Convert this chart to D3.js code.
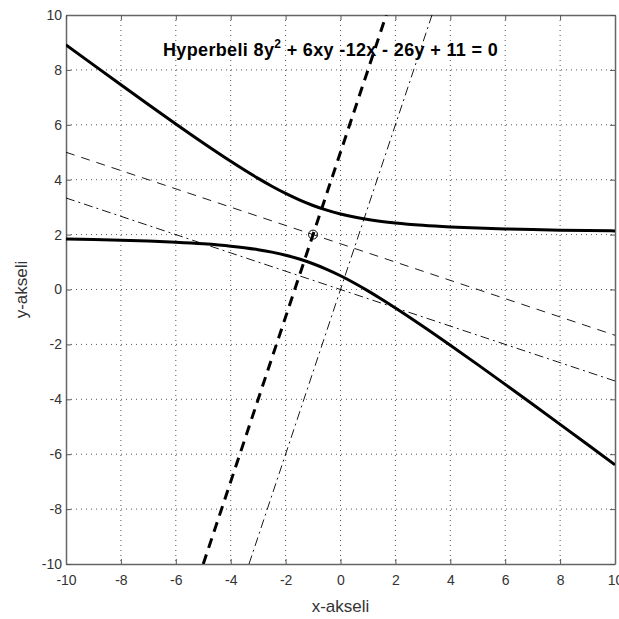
<!DOCTYPE html>
<html><head><meta charset="utf-8">
<script src="https://cdn.jsdelivr.net/npm/d3@7"></script>
<style>body{margin:0;background:#fff;} svg{display:block;font-family:"Liberation Sans",Arial,sans-serif;}</style>
</head><body>
<svg id="c" width="619" height="619"></svg>
<script>
const xTicks = [-10,-8,-6,-4,-2,0,2,4,6,8,10];
const yTicks = [-10,-8,-6,-4,-2,0,2,4,6,8,10];
const curveX = [-10,-9,-8,-7,-6,-5,-4,-3,-2.5,-2,-1.5,-1,-0.5,0,0.5,1,1.5,2,3,4,5,6,7,8,9,10];
const upperY = [8.913,8.182,7.456,6.737,6.029,5.337,4.671,4.049,3.763,3.5,3.265,3.061,2.890,2.75,2.638,2.549,2.478,2.421,2.337,2.279,2.237,2.206,2.182,2.163,2.147,2.134];
const lowerY = [1.837,1.818,1.794,1.763,1.721,1.663,1.579,1.451,1.362,1.25,1.110,0.939,0.735,0.5,0.237,-0.049,-0.353,-0.671,-1.337,-2.029,-2.737,-3.456,-4.182,-4.913,-5.647,-6.384];
const mainAxis1 = [[-5,-10],[1.667,10]];
const mainAxis2 = [[-10,5],[10,-1.667]];
const origAxis1 = [[-3.333,-10],[3.333,10]];
const origAxis2 = [[-10,3.333],[10,-3.333]];
const center = [-1,2];

const svg = d3.select("#c");
const L=66,T=15,R=615,B=564;
const x = d3.scaleLinear().domain([-10,10]).range([L,R]);
const y = d3.scaleLinear().domain([-10,10]).range([B,T]);
const fmt = d => String(d);

// grid
const g = svg.append("g");
g.selectAll(".gx").data(xTicks.slice(1,-1)).enter().append("line")
 .attr("x1",d=>x(d)).attr("x2",d=>x(d)).attr("y1",T).attr("y2",B)
 .attr("stroke","#555").attr("stroke-width",1).attr("stroke-dasharray","1,4");
g.selectAll(".gy").data(yTicks.slice(1,-1)).enter().append("line")
 .attr("y1",d=>y(d)).attr("y2",d=>y(d)).attr("x1",L).attr("x2",R)
 .attr("stroke","#555").attr("stroke-width",1).attr("stroke-dasharray","1,4");

// axes
const xa = svg.append("g").attr("transform",`translate(0,${B})`)
 .call(d3.axisBottom(x).tickValues(xTicks).tickFormat(fmt).tickSizeInner(-5).tickSizeOuter(0).tickPadding(11));
const ya = svg.append("g").attr("transform",`translate(${L},0)`)
 .call(d3.axisLeft(y).tickValues(yTicks).tickFormat(fmt).tickSizeInner(-5).tickSizeOuter(0).tickPadding(4));
const xb = svg.append("g").attr("transform",`translate(0,${T})`)
 .call(d3.axisTop(x).tickValues(xTicks).tickSizeInner(-5).tickSizeOuter(0).tickFormat(""));
const yb = svg.append("g").attr("transform",`translate(${R},0)`)
 .call(d3.axisRight(y).tickValues(yTicks).tickSizeInner(-5).tickSizeOuter(0).tickFormat(""));
[xa,ya,xb,yb].forEach(a=>{
  a.selectAll("path").attr("stroke","#666").attr("stroke-width",1.5);
  a.selectAll("line").attr("stroke","#555");
  a.selectAll("text").attr("font-size",14).attr("fill","#333").attr("font-family","Liberation Sans, Arial, sans-serif");
});

const clip = svg.append("clipPath").attr("id","clp").append("rect")
 .attr("x",L).attr("y",T).attr("width",R-L).attr("height",B-T);
const p = svg.append("g").attr("clip-path","url(#clp)");
const line = d3.line().x(d=>x(d[0])).y(d=>y(d[1]));
const smooth = d3.line().curve(d3.curveMonotoneX).x(d=>x(d[0])).y(d=>y(d[1]));

p.append("path").datum(curveX.map((v,i)=>[v,upperY[i]])).attr("d",smooth)
 .attr("fill","none").attr("stroke","#000").attr("stroke-width",3);
p.append("path").datum(curveX.map((v,i)=>[v,lowerY[i]])).attr("d",smooth)
 .attr("fill","none").attr("stroke","#000").attr("stroke-width",3);

p.append("path").datum(mainAxis1).attr("d",line).attr("fill","none").attr("stroke","#000").attr("stroke-width",3).attr("stroke-dasharray","10,7");
p.append("path").datum(mainAxis2).attr("d",line).attr("fill","none").attr("stroke","#000").attr("stroke-width",0.9).attr("stroke-dasharray","9,7");
p.append("path").datum(origAxis1).attr("d",line).attr("fill","none").attr("stroke","#000").attr("stroke-width",0.9).attr("stroke-dasharray","9,4,2,4");
p.append("path").datum(origAxis2).attr("d",line).attr("fill","none").attr("stroke","#000").attr("stroke-width",0.9).attr("stroke-dasharray","9,4,2,4");

p.append("circle").attr("cx",x(center[0])).attr("cy",y(center[1])).attr("r",4.5)
 .attr("fill","none").attr("stroke","#000").attr("stroke-width",1);

// title
const t = svg.append("text").attr("x",163).attr("y",56).attr("font-size",18).attr("font-weight","bold").attr("letter-spacing",0.35).attr("fill","#000");
t.append("tspan").text("Hyperbeli 8y");
t.append("tspan").attr("font-size",12).attr("dy",-8).text("2");
t.append("tspan").attr("dy",8).text(" + 6xy -12x - 26y + 11 = 0");

svg.append("text").attr("x",(L+R)/2).attr("y",612).attr("text-anchor","middle").attr("font-size",17).attr("fill","#333").text("x-akseli");
svg.append("text").attr("transform",`translate(27,${(T+B)/2}) rotate(-90)`).attr("text-anchor","middle").attr("font-size",17).attr("fill","#333").text("y-akseli");
</script>
</body></html>
